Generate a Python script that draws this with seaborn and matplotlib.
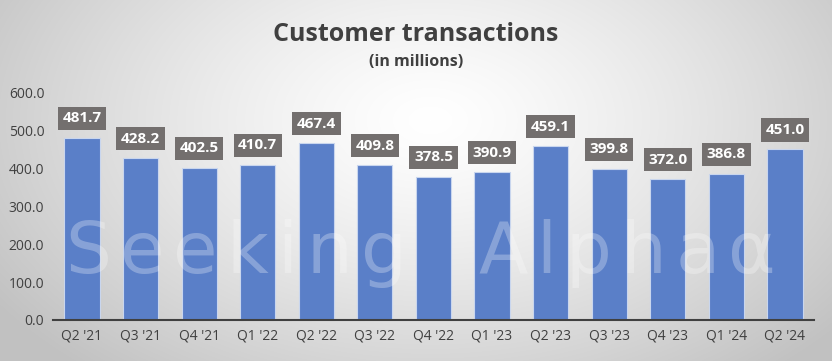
import numpy as np
import pandas as pd
import matplotlib
matplotlib.use("Agg")
import matplotlib.pyplot as plt
import matplotlib.transforms as mtransforms
import seaborn as sns

quarters = ["Q2 '21", "Q3 '21", "Q4 '21", "Q1 '22", "Q2 '22", "Q3 '22", "Q4 '22",
            "Q1 '23", "Q2 '23", "Q3 '23", "Q4 '23", "Q1 '24", "Q2 '24"]
values = [481.7, 428.2, 402.5, 410.7, 467.4, 409.8, 378.5, 390.9, 459.1, 399.8, 372.0, 386.8, 451.0]
yticks = [0, 100, 200, 300, 400, 500, 600]
watermark = "Seeking Alpha\u03b1"

sns.set_theme(style="white")
plt.rcParams['font.family'] = ['Open Sans', 'DejaVu Sans']

fig = plt.figure(figsize=(8.32, 3.61), dpi=100)

# radial gradient background
bg = fig.add_axes([0, 0, 1, 1])
yy, xx = np.mgrid[0:361, 0:832]
cx, cy = 430, 120
d = np.sqrt(((xx - cx) / 520.0) ** 2 + ((yy - cy) / 330.0) ** 2)
d = np.clip(d, 0, 1)
val = 1.0 - 0.24 * d ** 1.3
bg.imshow(np.dstack([val, val, val]), aspect='auto', extent=[0, 1, 0, 1])
bg.axis('off')

ax = fig.add_axes([0.0633, 0.1136, 0.9154, 0.6288])
ax.patch.set_alpha(0)
df = pd.DataFrame({"quarter": quarters, "value": values})
sns.barplot(data=df, x="quarter", y="value", ax=ax, color="#5A7FC8", saturation=1,
            width=0.6, edgecolor="#C9D6EE", linewidth=0.8, zorder=2)
ax.set_ylim(0, 600)
ax.set_xlim(-0.5, len(quarters) - 0.5)
ax.set_yticks(yticks)
ax.set_yticklabels([f"{t:.1f}" for t in yticks], fontsize=10, color="#404040")
ax.set_xticks(range(len(quarters)))
ax.set_xticklabels(quarters, fontsize=10, color="#404040")
ax.tick_params(axis='both', length=0, pad=6)
ax.set_xlabel("")
ax.set_ylabel("")
for s in ["top", "right", "left"]:
    ax.spines[s].set_visible(False)
ax.spines["bottom"].set_color("#404040")
ax.spines["bottom"].set_linewidth(1.5)
ax.spines["bottom"].set_zorder(3)

# watermark, drawn letter by letter with wide tracking
renderer = fig.canvas.get_renderer()
px = mtransforms.IdentityTransform()
xpos = 65.0
for ch in watermark:
    if ch == " ":
        xpos += 62
        continue
    t = fig.text(xpos, 361 - 273, ch, fontsize=52, color="white", alpha=0.28,
                 family="DejaVu Sans", ha="left", va="baseline", transform=px, zorder=5)
    w = t.get_window_extent(renderer).width
    xpos += w + 9

for i, v in enumerate(values):
    ax.annotate(f"{v:.1f}", xy=(i, v), xytext=(0, 14), textcoords="offset points",
                ha="center", va="center", fontsize=11, fontweight="bold", color="white",
                bbox=dict(boxstyle="square,pad=0.3", fc="#736F6E", ec="none"), zorder=6)

fig.text(0.5, 0.905, "Customer transactions", ha="center", va="center",
         fontsize=18, fontweight="bold", color="#404040")
fig.text(0.5, 0.828, "(in millions)", ha="center", va="center",
         fontsize=11.5, fontweight="bold", color="#404040")

fig.savefig("out.png", dpi=100)
